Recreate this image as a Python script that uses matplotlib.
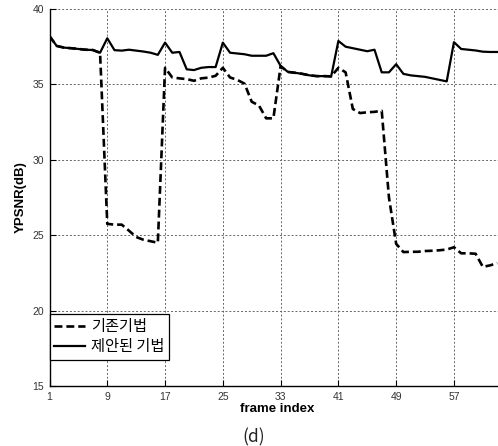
import matplotlib.pyplot as plt

frames = list(range(1, 64))

proposed = [38.2, 37.55, 37.44, 37.4, 37.35, 37.3, 37.28, 37.1,
            38.06, 37.27, 37.24, 37.3, 37.24, 37.18, 37.1, 36.96,
            37.77, 37.1, 37.15, 36.0, 35.95, 36.1, 36.15, 36.15,
            37.77, 37.1, 37.05, 37.0, 36.9, 36.9, 36.9, 37.07,
            36.23, 35.83, 35.77, 35.7, 35.6, 35.55, 35.55, 35.53,
            37.88, 37.5, 37.4, 37.3, 37.2, 37.3, 35.8, 35.8,
            36.34, 35.7, 35.6, 35.55, 35.5, 35.4, 35.3, 35.2,
            37.8, 37.35, 37.3, 37.25, 37.17, 37.15, 37.15]

existing = [38.2, 37.55, 37.44, 37.4, 37.35, 37.3, 37.28, 37.1,
            25.75, 25.7, 25.7, 25.3, 24.88, 24.7, 24.6, 24.5,
            36.1, 35.46, 35.4, 35.35, 35.24, 35.4, 35.45, 35.57,
            36.1, 35.46, 35.3, 35.05, 33.85, 33.6, 32.75, 32.75,
            36.2, 35.83, 35.77, 35.7, 35.6, 35.55, 35.55, 35.53,
            36.1, 35.8, 33.37, 33.1, 33.15, 33.18, 33.25, 27.5,
            24.43, 23.88, 23.9, 23.9, 23.95, 23.97, 24.0, 24.05,
            24.2, 23.8, 23.8, 23.77, 22.9, 23.0, 23.15]

x_ticks = [1, 9, 17, 25, 33, 41, 49, 57]
y_ticks = [15, 20, 25, 30, 35, 40]
labels = ['기존기법', '제안된 기법']

plt.rcParams['font.family'] = ['Liberation Sans', 'DejaVu Sans']

fig = plt.figure(figsize=(4.98, 4.46), dpi=100)
# axes run past the right edge, the reference is cropped there
ax = fig.add_axes([49.5 / 498, 60 / 446, 455 / 498, 377 / 446])

ax.plot(frames, existing, color='black', linewidth=1.9,
        linestyle=(0, (3, 1.5)), label=labels[0])
ax.plot(frames, proposed, color='black', linewidth=1.6, label=labels[1])

ax.set_xlim(1, 64)
ax.set_ylim(15, 40)
ax.set_xticks(x_ticks)
ax.set_yticks(y_ticks)
ax.tick_params(direction='in', length=4, labelsize=7.5, width=0.8,
               colors='black', pad=4, labelcolor='#333333')
ax.grid(True, color='#666666', linestyle=(0, (2, 2)), linewidth=0.7)

ax.spines['top'].set_visible(False)
ax.spines['right'].set_visible(False)
ax.spines['left'].set_linewidth(1.0)
ax.spines['bottom'].set_linewidth(1.0)

ax.set_xlabel('frame index', fontsize=9.5, fontweight='bold', labelpad=1)
ax.set_ylabel('YPSNR(dB)', fontsize=9.5, fontweight='bold', labelpad=4)

leg = ax.legend(loc='lower left', bbox_to_anchor=(0, 0.069), borderaxespad=0,
                prop={'family': ['Noto Sans CJK KR', 'DejaVu Sans'],
                      'size': 11, 'weight': 'medium'},
                fancybox=False, framealpha=1, edgecolor='black',
                handlelength=2.0, handletextpad=0.4, borderpad=0.3,
                labelspacing=0.2)
leg.get_frame().set_linewidth(0.9)

fig.text(254 / 498, 1 - 437 / 446, '(d)', ha='center', va='center',
         fontsize=12.5, family=['Noto Sans CJK KR', 'DejaVu Sans'], color='#222222')

fig.savefig('out.png', dpi=100)
